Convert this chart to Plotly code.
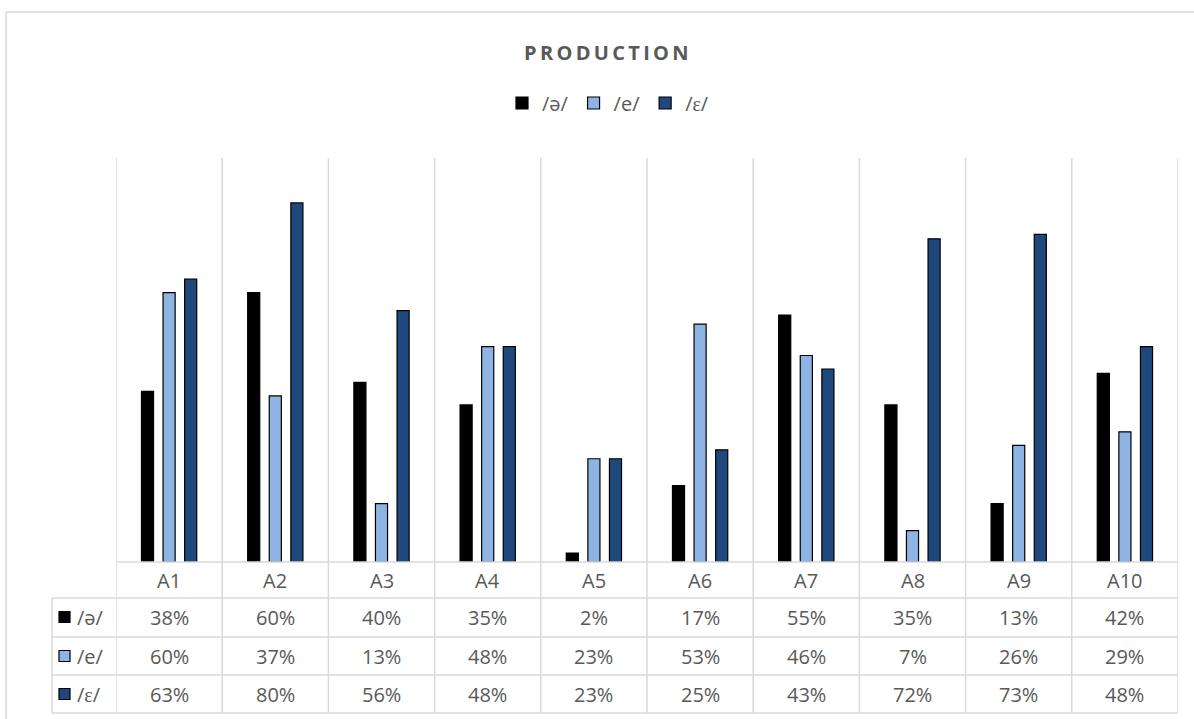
import plotly.graph_objects as go

categories = ["A1", "A2", "A3", "A4", "A5", "A6", "A7", "A8", "A9", "A10"]
series_names = ["/ə/", "/e/", "/ɛ/"]
schwa = [38, 60, 40, 35, 2, 17, 55, 35, 13, 42]
e_close = [60, 37, 13, 48, 23, 53, 46, 7, 26, 29]
e_open = [63, 80, 56, 48, 23, 25, 43, 72, 73, 48]
series_values = [schwa, e_close, e_open]
colors = ["#000000", "#8EB4E3", "#1F497D"]

W, H = 1194, 719
L, R, T, B = 116, 1178, 158, 562
FONT = "Open Sans"
GREY = "#595959"
GRID = "#D9D9D9"


def px_x(px):
    return (px - L) / (R - L)


def px_y(py):
    return (B - py) / (B - T)


fig = go.Figure()
for name, vals, col in zip(series_names, series_values, colors):
    fig.add_trace(go.Bar(
        x=categories, y=[v / 100 for v in vals], name=name,
        marker=dict(color=col, line=dict(color="#000000", width=1.2)),
    ))

shapes = []
for i in range(len(categories) + 1):
    shapes.append(dict(type="line", xref="x", yref="paper",
                       x0=i - 0.5, x1=i - 0.5, y0=px_y(T), y1=px_y(713),
                       line=dict(color=GRID, width=1.5)))
shapes.append(dict(type="line", xref="paper", yref="paper",
                   x0=px_x(52), x1=px_x(52), y0=px_y(598), y1=px_y(713),
                   line=dict(color=GRID, width=1.5)))
shapes.append(dict(type="line", xref="paper", yref="paper",
                   x0=0, x1=1, y0=0, y1=0, line=dict(color=GRID, width=1.5)))
for py in [598, 637, 675, 713]:
    shapes.append(dict(type="line", xref="paper", yref="paper",
                       x0=px_x(52), x1=1, y0=px_y(py), y1=px_y(py),
                       line=dict(color=GRID, width=1.5)))
shapes.append(dict(type="line", xref="paper", yref="paper",
                   x0=px_x(6), x1=px_x(W + 5), y0=px_y(12), y1=px_y(12),
                   line=dict(color=GRID, width=1.5)))
shapes.append(dict(type="line", xref="paper", yref="paper",
                   x0=px_x(6), x1=px_x(6), y0=px_y(12), y1=px_y(H + 5),
                   line=dict(color=GRID, width=1.5)))

annotations = []
for c in categories:
    annotations.append(dict(x=c, xref="x", y=px_y(580), yref="paper",
                            text=c, showarrow=False, yanchor="middle",
                            font=dict(family=FONT, size=20, color=GREY)))
row_centers = [617, 656, 694]
for r, (name, vals, col) in enumerate(zip(series_names, series_values, colors)):
    yc = row_centers[r]
    shapes.append(dict(type="rect", xref="paper", yref="paper",
                       x0=px_x(59), x1=px_x(70), y0=px_y(yc - 5.5), y1=px_y(yc + 5.5),
                       fillcolor=col, line=dict(color="#000000", width=1.2)))
    annotations.append(dict(x=px_x(75), xref="paper", y=px_y(yc), yref="paper",
                            text=name, showarrow=False, xanchor="left", yanchor="middle",
                            font=dict(family=FONT, size=20, color=GREY)))
    for c, v in zip(categories, vals):
        annotations.append(dict(x=c, xref="x", y=px_y(yc), yref="paper",
                                text=f"{v}%", showarrow=False, yanchor="middle",
                                font=dict(family=FONT, size=20, color=GREY)))

annotations.append(dict(x=px_x(606), xref="paper", y=px_y(52), yref="paper",
                        text="<b>" + "\u2009".join("PRODUCTION") + "</b>",
                        showarrow=False, yanchor="middle",
                        font=dict(family=FONT, size=20, color=GREY)))

fig.update_layout(
    width=W, height=H,
    margin=dict(l=L, r=W - R, t=T, b=H - B),
    paper_bgcolor="white", plot_bgcolor="white",
    barmode="group", bargap=0.39, bargroupgap=0.44,
    showlegend=True,
    legend=dict(orientation="h", x=px_x(608), xanchor="center",
                y=px_y(103), yanchor="middle",
                font=dict(family=FONT, size=20, color=GREY),
                itemwidth=30, tracegroupgap=0),
    xaxis=dict(range=[-0.5, len(categories) - 0.5], showticklabels=False,
               showgrid=False, zeroline=False, showline=False, ticks=""),
    yaxis=dict(range=[0, 0.9], visible=False, showgrid=False, zeroline=False),
    shapes=shapes, annotations=annotations,
)

fig.write_html("out.html", config={"displayModeBar": False},
               post_script="document.body.style.margin='0';document.body.style.overflow='hidden';")
